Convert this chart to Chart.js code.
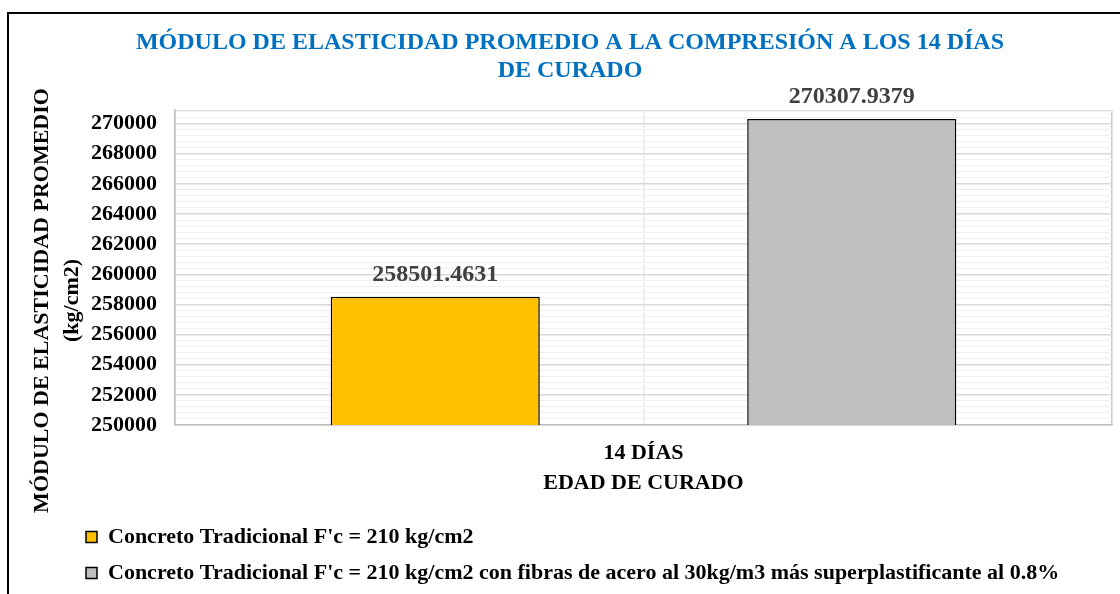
<!DOCTYPE html>
<html>
<head>
<meta charset="utf-8">
<script src="https://cdn.jsdelivr.net/npm/chart.js@4.4.1/dist/chart.umd.min.js"></script>
<style>
  html, body { margin: 0; padding: 0; background: #fff; }
  #wrap { position: relative; width: 1120px; height: 594px; overflow: hidden; }
  #frame { position: absolute; left: 7px; top: 12px; width: 1200px; height: 700px;
           border-left: 2px solid #000; border-top: 2px solid #000; }
  #chart { position: absolute; left: 0; top: 0; }
</style>
</head>
<body>
<div id="wrap">
  <div id="frame"></div>
  <canvas id="chart" width="1120" height="594"></canvas>
</div>
<script>
    // Data
    const categories = ["14 DÍAS"];
    const seriesNames = [
        "Concreto Tradicional F'c = 210 kg/cm2",
        "Concreto Tradicional F'c = 210 kg/cm2 con fibras de acero al 30kg/m3 más superplastificante al 0.8%"
    ];
    const traditional = [258501.4631];
    const withFibers = [270307.9379];
    const yMin = 250000;
    const yMax = 270900;
    const yLabelStep = 2000;
    const yLabelTop = 270000;
    const yMinorStep = 400;

    const serif = "'Liberation Serif', 'Times New Roman', serif";
    const legendShift = 44;
    // the axis title sits a bit below the middle of the plot in the reference
    const titlePad = '\u00A0'.repeat(12);

    function tickValue(c) {
        return c && c.tick ? Math.round(c.tick.value) : null;
    }

    // value labels above the bars
    const valueLabels = {
        id: 'valueLabels',
        afterDatasetsDraw(chart) {
            const ctx = chart.ctx;
            ctx.save();
            ctx.font = "bold 24px " + serif;
            ctx.fillStyle = '#404040';
            ctx.textAlign = 'center';
            ctx.textBaseline = 'middle';
            chart.data.datasets.forEach((ds, i) => {
                chart.getDatasetMeta(i).data.forEach((bar, j) => {
                    ctx.fillText(ds.data[j].toFixed(4), bar.x, bar.y - 22);
                });
            });
            ctx.restore();
        }
    };

    // legend sits further right than the chart padding allows
    const moveLegend = {
        id: 'moveLegend',
        afterLayout(chart) {
            chart.legend.left += legendShift;
        }
    };

    new Chart(document.getElementById('chart'), {
        type: 'bar',
        data: {
            labels: categories,
            datasets: [
                { label: seriesNames[0], data: traditional, backgroundColor: '#FFC000',
                  borderColor: '#000', borderWidth: 1.5 },
                { label: seriesNames[1], data: withFibers, backgroundColor: '#BFBFBF',
                  borderColor: '#000', borderWidth: 1.5 }
            ]
        },
        options: {
            responsive: false,
            animation: false,
            datasets: {
                bar: { categoryPercentage: 0.889, barPercentage: 0.502 }
            },
            layout: { padding: { left: 28, right: 8, top: 0, bottom: 0 } },
            plugins: {
                title: {
                    display: true,
                    text: ['MÓDULO DE ELASTICIDAD PROMEDIO A LA COMPRESIÓN A LOS 14 DÍAS', 'DE CURADO'],
                    color: '#0070C0',
                    font: { family: serif, size: 24, weight: 'bold', lineHeight: 28 / 24 },
                    padding: { top: 29, bottom: 25 }
                },
                legend: {
                    position: 'bottom',
                    align: 'start',
                    labels: {
                        color: '#000',
                        font: { family: serif, size: 22, weight: 'bold' },
                        boxWidth: 11,
                        boxHeight: 11,
                        padding: 14
                    }
                },
                tooltip: { enabled: false }
            },
            scales: {
                x: {
                    grid: { display: false },
                    border: { color: '#BFBFBF', width: 1.5 },
                    ticks: { color: '#000', font: { family: serif, size: 22, weight: 'bold' }, padding: 7 },
                    title: {
                        display: true,
                        text: 'EDAD DE CURADO',
                        color: '#000',
                        font: { family: serif, size: 22, weight: 'bold' },
                        padding: { top: -3.6, bottom: 15.8 }
                    }
                },
                xGrid: {
                    type: 'linear',
                    position: 'top',
                    min: 0,
                    max: 2,
                    offset: false,
                    afterBuildTicks: s => { s.ticks = [0, 1, 2].map(v => ({ value: v })); },
                    ticks: { display: false },
                    border: { display: false },
                    grid: {
                        offset: false,
                        drawTicks: false,
                        lineWidth: 1.5,
                        color: c => tickValue(c) === 1 ? '#EBEBEB' : '#C8C8C8'
                    }
                },
                y: {
                    min: yMin,
                    max: yMax,
                    afterBuildTicks: s => {
                        const t = [];
                        for (let v = yMin; v < yMax; v += yMinorStep) t.push({ value: v });
                        t.push({ value: yMax });
                        s.ticks = t;
                    },
                    border: { color: '#BFBFBF', width: 1.5 },
                    grid: {
                        drawTicks: false,
                        lineWidth: c => {
                            const v = tickValue(c);
                            return (v === null || v % yLabelStep === 0) ? 1.5 : 1;
                        },
                        color: c => {
                            const v = tickValue(c);
                            return (v === null || v % yLabelStep === 0 || v === yMax) ? '#D9D9D9' : '#F0F0F0';
                        }
                    },
                    ticks: {
                        autoSkip: false,
                        padding: 18,
                        color: '#000',
                        font: { family: serif, size: 22, weight: 'bold' },
                        callback: v => {
                            const r = Math.round(v);
                            return (r % yLabelStep === 0 && r <= yLabelTop) ? String(r) : '';
                        }
                    },
                    title: {
                        display: true,
                        text: ['MÓDULO DE ELASTICIDAD PROMEDIO' + titlePad, '(kg/cm2)' + titlePad],
                        color: '#000',
                        font: { family: serif, size: 22, weight: 'bold', lineHeight: 30 / 22 },
                        padding: { top: -1, bottom: -14 }
                    }
                }
            }
        },
        plugins: [valueLabels, moveLegend]
    });
</script>
</body>
</html>
